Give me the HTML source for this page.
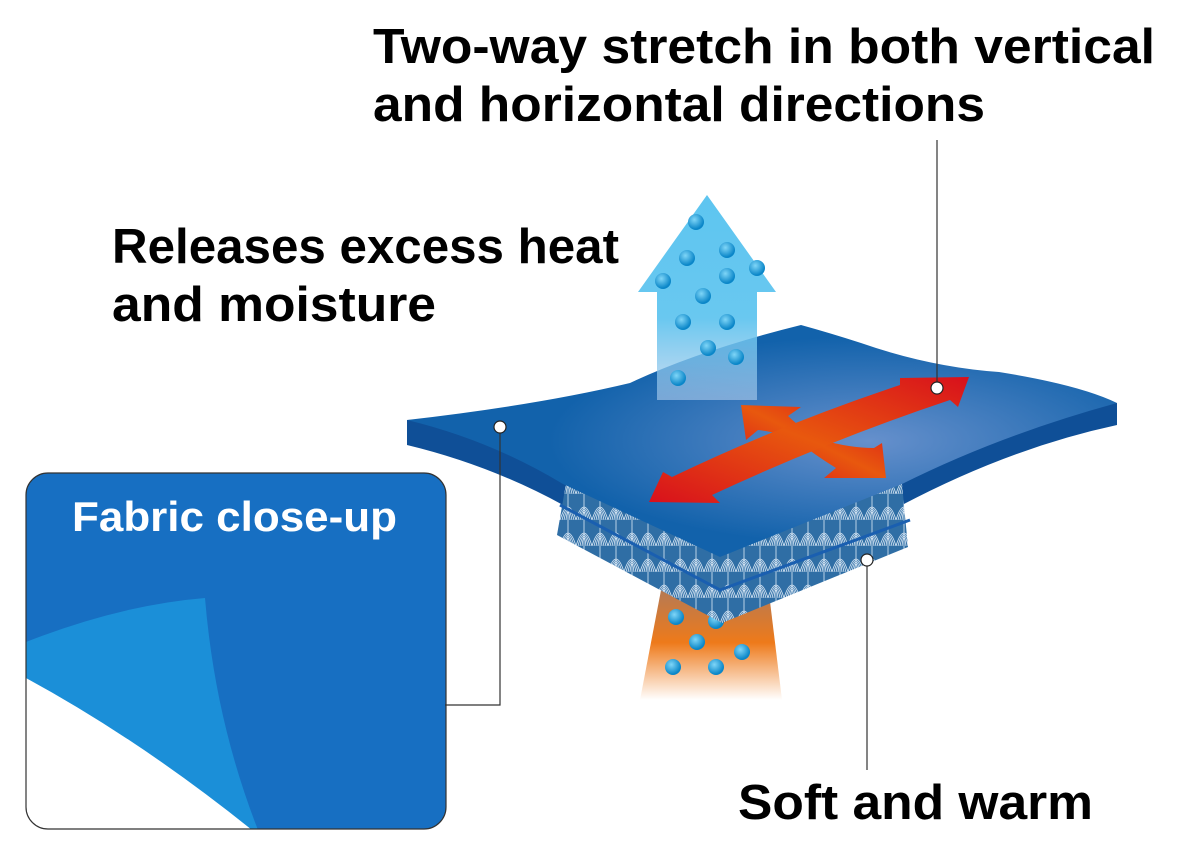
<!DOCTYPE html>
<html><head><meta charset="utf-8"><style>
html,body{margin:0;padding:0;background:#fff;}
svg{display:block;}
text{font-family:"Liberation Sans",sans-serif;font-weight:bold;}
</style></head><body>
<svg width="1200" height="850" viewBox="0 0 1200 850">
<defs>
<linearGradient id="up" x1="0" y1="0" x2="0" y2="1">
<stop offset="0" stop-color="#4fc0ef"/><stop offset="0.6" stop-color="#5cc3ef"/><stop offset="1" stop-color="#a8c8ea" stop-opacity="0.7"/></linearGradient>
<linearGradient id="org" x1="0" y1="0" x2="0" y2="1">
<stop offset="0" stop-color="#b07a5a"/><stop offset="0.5" stop-color="#ee7a1a"/><stop offset="1" stop-color="#fff"/></linearGradient>
<radialGradient id="top" cx="0.65" cy="0.5" r="0.45">
<stop offset="0" stop-color="#6690cc"/><stop offset="1" stop-color="#1262ab"/></radialGradient>
<linearGradient id="red" x1="0" y1="1" x2="1" y2="0">
<stop offset="0" stop-color="#d8101c"/><stop offset="0.5" stop-color="#e8580e"/><stop offset="1" stop-color="#d8101c"/></linearGradient>
<radialGradient id="dot" cx="0.4" cy="0.35" r="0.6"><stop offset="0" stop-color="#7fd6f8"/><stop offset="1" stop-color="#0a86c8"/></radialGradient>
<pattern id="knit" width="16" height="26" patternUnits="userSpaceOnUse">
<rect width="16" height="26" fill="#2f6ea5"/>
<path d="M0 26 Q8 0 16 26 M2 26 Q8 3 14 26 M4 26 Q8 6 12 26 M6 26 Q8 9 10 26 M8 0 L8 26" stroke="#dceaf7" stroke-width="0.8" fill="none"/>
</pattern>
<clipPath id="box"><rect x="26" y="473" width="420" height="356" rx="22"/></clipPath>
</defs>

<!-- orange lower -->
<path d="M662 585 L768 585 L782 700 L640 700 Z" fill="url(#org)"/>
<g fill="url(#dot)">
<circle cx="676" cy="617" r="8"/><circle cx="697" cy="642" r="8"/><circle cx="742" cy="652" r="8"/>
<circle cx="673" cy="667" r="8"/><circle cx="716" cy="667" r="8"/><circle cx="716" cy="621" r="8"/>
</g>

<!-- fabric thickness -->
<path d="M407 420 L407 445 Q490 465 563 505 L902 505 Q1010 448 1117 425 L1117 403 Z" fill="#0f4f97"/>

<!-- knit layer -->
<path d="M567 478 L902 484 L908 547 L722 623 L557 535 Z" fill="url(#knit)"/>
<path d="M560 505 L720 590 L910 520" stroke="#1a5fb0" stroke-width="3" fill="none"/>

<!-- top surface -->
<path d="M407 420 Q538 405 630 383 Q700 350 801 325 Q830 333 861 343 Q930 367 999 372 Q1080 385 1117 403 Q1000 435 902 484 L720 557 L563 484 Q490 440 407 420 Z" fill="url(#top)"/>

<!-- blue up arrow -->
<path d="M707 195 L776 292 L757 292 L757 400 L657 400 L657 292 L638 292 Z" fill="url(#up)" opacity="0.92"/>
<g fill="url(#dot)">
<circle cx="696" cy="222" r="8"/><circle cx="727" cy="250" r="8"/><circle cx="687" cy="258" r="8"/>
<circle cx="757" cy="268" r="8"/><circle cx="663" cy="281" r="8"/><circle cx="727" cy="276" r="8"/>
<circle cx="703" cy="296" r="8"/><circle cx="683" cy="322" r="8"/><circle cx="727" cy="322" r="8"/>
<circle cx="708" cy="348" r="8"/><circle cx="736" cy="357" r="8"/><circle cx="678" cy="378" r="8"/>
</g>

<!-- red arrows -->
<path d="M741 405 L801 407 L788 416 Q805 432 822 440 Q850 448 874 448 L882 443 L886 478 L824 478 L836 468 Q815 455 800 443 Q780 432 758 430 L746 440 Z" fill="url(#red)"/>
<path d="M649 502 L663 472 L672 477 Q780 425 900 385 L900 378 L969 377 L958 407 L950 400 Q830 440 712 495 L720 503 Z" fill="url(#red)"/>

<!-- close-up box -->
<g clip-path="url(#box)">
<rect x="26" y="473" width="420" height="356" fill="#176fc2"/>
<path d="M26 642 Q120 605 205 598 Q215 720 258 830 L26 830 Z" fill="#1b8fd8"/>
<path d="M26 678 Q140 740 252 830 L26 830 Z" fill="#fff"/>
</g>
<rect x="26" y="473" width="420" height="356" rx="22" fill="none" stroke="#333" stroke-width="1.2"/>
<text x="72" y="531" font-size="42" fill="#fff" textLength="325" lengthAdjust="spacingAndGlyphs">Fabric close-up</text>

<!-- leader lines -->
<g stroke="#333" stroke-width="1.2" fill="none">
<path d="M500 427 L500 705 L445 705"/>
<path d="M937 388 L937 140"/>
<path d="M867 560 L867 770"/>
</g>
<g fill="#fff" stroke="#222" stroke-width="1.2">
<circle cx="500" cy="427" r="6"/><circle cx="937" cy="388" r="6"/><circle cx="867" cy="560" r="6"/>
</g>

<!-- labels -->
<g font-size="49" fill="#000">
<text x="373" y="63" textLength="782" lengthAdjust="spacingAndGlyphs">Two-way stretch in both vertical</text>
<text x="373" y="121" textLength="612" lengthAdjust="spacingAndGlyphs">and horizontal directions</text>
<text x="112" y="263" textLength="507" lengthAdjust="spacingAndGlyphs">Releases excess heat</text>
<text x="112" y="321" textLength="324" lengthAdjust="spacingAndGlyphs">and moisture</text>
<text x="738" y="819" textLength="355" lengthAdjust="spacingAndGlyphs">Soft and warm</text>
</g>
</svg>
</body></html>
